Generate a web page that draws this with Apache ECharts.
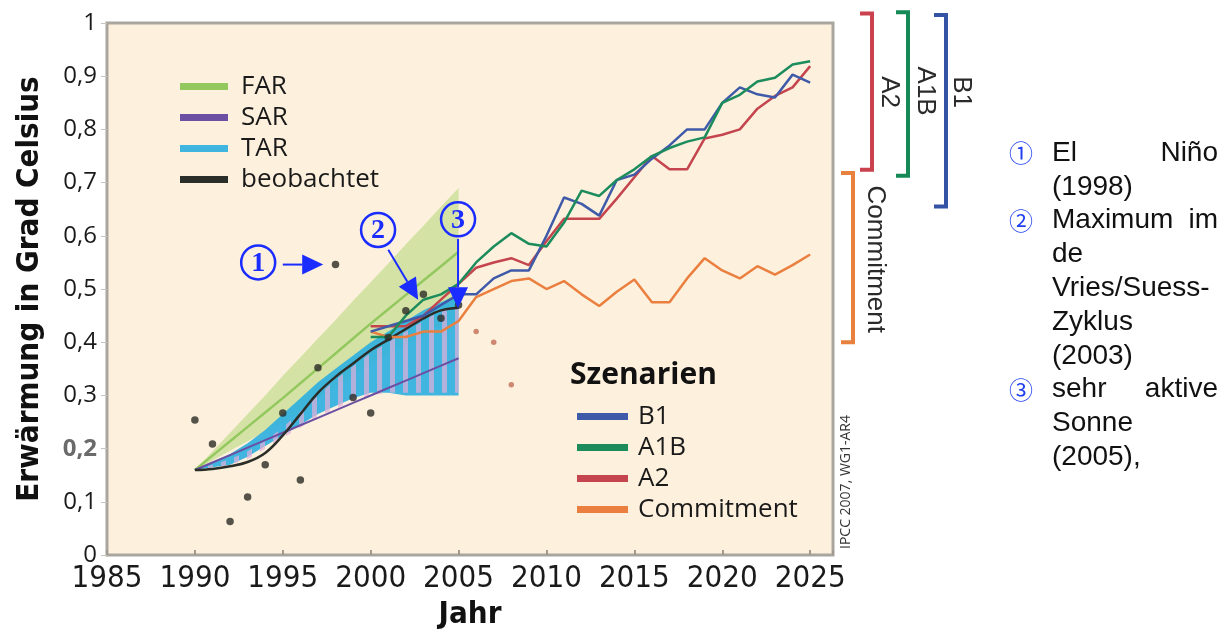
<!DOCTYPE html>
<html><head><meta charset="utf-8">
<script src="https://cdn.jsdelivr.net/npm/echarts@6/dist/echarts.min.js"></script>
<style>html,body{margin:0;padding:0;background:#fff}#c{width:1231px;height:635px}</style>
</head><body><div id="c"></div>
<script>
// ---------- data ----------
const xTickLabels = ['1985','1990','1995','2000','2005','2010','2015','2020','2025'];
const yTickLabels = ['0','0,1','0,2','0,3','0,4','0,5','0,6','0,7','0,8','0,9','1'];

const bandYears = [1990,1991,1992,1993,1994,1995,1996,1997,1998,1999,2000,2001,2002,2003,2004,2005];
const farUpper  = [0.16,0.195,0.23,0.265,0.30,0.337,0.372,0.407,0.442,0.478,0.513,0.548,0.584,0.619,0.655,0.69];
const farLower  = [0.16,0.178,0.196,0.214,0.232,0.25,0.272,0.294,0.316,0.338,0.36,0.378,0.396,0.414,0.432,0.45];
const farCenter = [0.16,0.187,0.214,0.241,0.268,0.295,0.323,0.351,0.379,0.407,0.435,0.462,0.489,0.516,0.543,0.57];
const tarUpper  = [0.16,0.175,0.19,0.21,0.235,0.265,0.295,0.325,0.35,0.375,0.40,0.42,0.44,0.46,0.475,0.49];
const tarLower  = [0.16,0.165,0.17,0.185,0.205,0.225,0.245,0.265,0.28,0.295,0.305,0.305,0.30,0.30,0.30,0.30];
const sarUpper  = [0.16,0.17,0.18,0.195,0.215,0.24,0.27,0.30,0.33,0.355,0.38,0.40,0.42,0.44,0.46,0.47];
const sarLower  = [0.16,0.165,0.17,0.18,0.20,0.22,0.24,0.26,0.275,0.29,0.30,0.305,0.305,0.305,0.305,0.305];
const sarCenter = [0.16,0.174,0.188,0.202,0.216,0.23,0.244,0.258,0.272,0.286,0.30,0.314,0.328,0.342,0.356,0.37];

const obsSmooth = [0.16,0.162,0.167,0.175,0.192,0.225,0.265,0.305,0.335,0.36,0.385,0.405,0.425,0.445,0.46,0.465];
const obsDots   = [0.254,0.209,0.063,0.109,0.170,0.267,0.141,0.352,0.546,0.296,0.267,0.409,0.459,0.49,0.445,0.47];
const lateYears = [2006,2007,2008];
const lateDots  = [0.42,0.40,0.32];

const scenYears = [2000,2001,2002,2003,2004,2005,2006,2007,2008,2009,2010,2011,2012,2013,2014,2015,2016,2017,2018,2019,2020,2021,2022,2023,2024,2025];
const B1  = [0.42,0.43,0.44,0.45,0.47,0.49,0.49,0.52,0.535,0.535,0.60,0.672,0.66,0.638,0.705,0.715,0.745,0.77,0.80,0.80,0.85,0.879,0.866,0.86,0.903,0.888];
const A1B = [0.41,0.41,0.45,0.48,0.49,0.51,0.55,0.58,0.605,0.585,0.58,0.625,0.685,0.675,0.705,0.725,0.75,0.765,0.777,0.785,0.85,0.865,0.89,0.897,0.922,0.928];
const A2  = [0.43,0.43,0.43,0.45,0.48,0.51,0.54,0.55,0.558,0.545,0.59,0.632,0.632,0.632,0.67,0.71,0.75,0.725,0.725,0.783,0.79,0.80,0.839,0.863,0.879,0.919];
const Commitment = [0.42,0.41,0.41,0.42,0.42,0.44,0.485,0.50,0.515,0.52,0.50,0.515,0.49,0.468,0.495,0.518,0.475,0.475,0.52,0.558,0.535,0.52,0.543,0.527,0.545,0.565];

const bracketNames   = ['A2','A1B','B1','Commitment'];
const bracketLow     = [0.724,0.713,0.655,0.40];
const bracketHigh    = [1.018,1.02,1.015,0.718];
const bracketLabelAt = [0.87,0.872,0.87,0.556];

// annotation anchors (data units)
const noteLabels  = ['1','2','3'];
const noteCircles = [[1993.6,0.55],[2000.42,0.611],[2004.97,0.631]];
const noteArrowFrom = [[1995.0,0.546],[2001.0,0.574],[2004.97,0.594]];
const noteArrowTo   = [[1997.3,0.546],[2002.7,0.480],[2004.97,0.464]];

// ---------- styles ----------
const narrow = "'Liberation Sans Narrow','DejaVu Sans Condensed','Open Sans',sans-serif";
const humanist = "'Open Sans',sans-serif";
const blueNote = '#1a2cff';
const colors = {FAR:'#93c85e', SAR:'#6a4fa3', TAR:'#36b2df', obs:'#2b2d28',
  B1:'#3f5aa8', A1B:'#1c8c5c', A2:'#c5454f', Commitment:'#ea7f3f'};
const bracketStyle = {
  A2:{off:39, lab:17, color:'#c9424e'}, A1B:{off:75, lab:17, color:'#168a56'},
  B1:{off:113, lab:15, color:'#3553a4'}, Commitment:{off:20, lab:22, color:'#e8803e'}};

const X_MIN = 1985, X_MAX = 2026.3;

function zip(xs, ys){ return xs.map((x,i)=>[x, ys[i]]); }

function bandSeries(name, up, lo, fill){
  return {
    type:'custom', name: name, coordinateSystem:'cartesian2d', silent:true, z:1,
    itemStyle:{color: typeof fill === 'string' ? fill : colors.TAR},
    data:[[bandYears[0], lo[0]]],
    renderItem:function(params, api){
      const pts = [];
      for (let i=0;i<bandYears.length;i++) pts.push(api.coord([bandYears[i], up[i]]));
      for (let i=bandYears.length-1;i>=0;i--) pts.push(api.coord([bandYears[i], lo[i]]));
      return {type:'polygon', shape:{points:pts}, style:{fill:fill}};
    }
  };
}

// stripe pattern for SAR band
const pc = document.createElement('canvas'); pc.width = 13; pc.height = 10;
const pctx = pc.getContext('2d');
pctx.fillStyle = 'rgba(225,175,218,0.70)'; pctx.fillRect(0,0,5,10);
const stripe = {image: pc, repeat:'repeat'};

const chart = echarts.init(document.getElementById('c'), null, {renderer:'canvas'});

const noteGraphics = [];
const noteRows = [
  ['①', ['El','Niño']], [null, ['(1998)']],
  ['②', ['Maximum','im']], [null, ['de']], [null, ['Vries/Suess-']], [null, ['Zyklus']], [null, ['(2003)']],
  ['③', ['sehr','aktive']], [null, ['Sonne']], [null, ['(2005),']]
];
noteRows.forEach((r, i) => {
  const y = 153 + i*33.8;
  if (r[0]) noteGraphics.push({type:'text', x:1021, y:y, style:{text:r[0], fill:'#2040f0', font:"24px 'Noto Sans CJK JP'", textAlign:'center', textVerticalAlign:'middle'}});
  noteGraphics.push({type:'text', x:1052, y:y, style:{text:r[1][0], fill:'#111', font:"28px 'Liberation Sans',Arial,sans-serif", textAlign:'left', textVerticalAlign:'middle'}});
  if (r[1][1]) noteGraphics.push({type:'text', x:1218, y:y, style:{text:r[1][1], fill:'#111', font:"28px 'Liberation Sans',Arial,sans-serif", textAlign:'right', textVerticalAlign:'middle'}});
});

const option = {
  animation:false,
  backgroundColor:'#ffffff',
  grid:{left:107, right:398, top:23, bottom:72, show:true, backgroundColor:'#fdf1dd', borderColor:'#aaa69f', borderWidth:3},
  xAxis:{
    type:'value', min:X_MIN, max:X_MAX, interval:5,
    name:'Jahr', nameLocation:'middle', nameGap:36,
    nameTextStyle:{fontFamily:narrow, fontWeight:'bold', fontSize:31, color:'#111'},
    axisLine:{show:false}, splitLine:{show:false},
    axisTick:{show:true, inside:true, length:5, lineStyle:{color:'#a09a90', width:2}},
    axisLabel:{margin:8, fontFamily:narrow, fontSize:31, color:'#1a1a1a',
      formatter:function(v){ const s = String(Math.round(v)); return (Math.abs(v-Math.round(v))<1e-6 && xTickLabels.indexOf(s)>=0) ? s : ''; }}
  },
  yAxis:{
    type:'value', min:0, max:1, interval:0.1,
    name:'Erwärmung in Grad Celsius', nameLocation:'middle', nameGap:62,
    nameTextStyle:{fontFamily:narrow, fontWeight:'bold', fontSize:31, color:'#111'},
    axisLine:{show:false}, splitLine:{show:false},
    axisTick:{show:true, length:6, lineStyle:{color:'#c8c4bc', width:1}},
    axisLabel:{margin:10, fontFamily:humanist, fontSize:24, color:'#1a1a1a',
      formatter:function(v){ const s = yTickLabels[Math.round(v*10)]; return s === '0,2' ? '{g|'+s+'}' : s; },
      rich:{g:{fontFamily:humanist, fontSize:24, fontWeight:'bold', color:'#6a6a6a'}}}
  },
  legend:[
    {data:['FAR','SAR','TAR','beobachtet'], orient:'vertical', left:175, top:66, icon:'rect',
     itemWidth:48, itemHeight:7, itemGap:0, selectedMode:false,
     textStyle:{fontFamily:humanist, fontSize:26, color:'#1a1a1a', lineHeight:31, padding:[0,0,0,8]}},
    {data:['B1','A1B','A2','Commitment'], orient:'vertical', left:572, top:396, icon:'rect',
     itemWidth:51, itemHeight:7, itemGap:0, selectedMode:false,
     textStyle:{fontFamily:humanist, fontSize:26, color:'#1a1a1a', lineHeight:31, padding:[0,0,0,5]}}
  ],
  graphic:[
    {type:'text', x:570, y:375, style:{text:'Szenarien', font:"bold 30px 'Open Sans',sans-serif", fill:'#111', textAlign:'left', textVerticalAlign:'middle'}},
    {type:'text', x:846, y:482, rotation:Math.PI/2, style:{text:'IPCC 2007, WG1-AR4', font:"14px 'Open Sans',sans-serif", fill:'#333', textAlign:'center', textVerticalAlign:'middle'}}
  ].concat(noteGraphics),
  series:[
    bandSeries('FARband', farUpper, farLower, 'rgba(165,208,100,0.45)'),
    bandSeries('TAR', tarUpper, tarLower, 'rgba(48,176,222,0.92)'),
    bandSeries('SARband', sarUpper, sarLower, stripe),
    {type:'line', name:'FAR', data:zip(bandYears, farCenter), showSymbol:false, z:3,
     lineStyle:{color:colors.FAR, width:2.5}, itemStyle:{color:colors.FAR}},
    {type:'line', name:'SAR', data:zip(bandYears, sarCenter), showSymbol:false, z:3,
     lineStyle:{color:colors.SAR, width:2}, itemStyle:{color:colors.SAR}},
    {type:'line', name:'beobachtet', data:zip(bandYears, obsSmooth), smooth:0.4, showSymbol:false, z:4,
     lineStyle:{color:colors.obs, width:2.5}, itemStyle:{color:colors.obs}},
    {type:'line', name:'Commitment', data:zip(scenYears, Commitment), showSymbol:false, z:5,
     lineStyle:{color:colors.Commitment, width:2.5}, itemStyle:{color:colors.Commitment}},
    {type:'line', name:'A2', data:zip(scenYears, A2), showSymbol:false, z:5,
     lineStyle:{color:colors.A2, width:2.5}, itemStyle:{color:colors.A2}},
    {type:'line', name:'B1', data:zip(scenYears, B1), showSymbol:false, z:5,
     lineStyle:{color:colors.B1, width:2.5}, itemStyle:{color:colors.B1}},
    {type:'line', name:'A1B', data:zip(scenYears, A1B), showSymbol:false, z:5,
     lineStyle:{color:colors.A1B, width:2.5}, itemStyle:{color:colors.A1B}},
    {type:'scatter', name:'obsDots', data:zip(bandYears, obsDots), symbolSize:7.5, z:6,
     itemStyle:{color:'#2a2a26'}},
    {type:'scatter', name:'lateDots', data:zip(lateYears, lateDots), symbolSize:5.5, z:6,
     itemStyle:{color:'#c26e58'}},
    {type:'custom', name:'notes', coordinateSystem:'cartesian2d', clip:false, silent:true, z:8,
     data: noteLabels.map((l,i)=>[noteCircles[i][0], noteCircles[i][1], i]),
     renderItem:function(params, api){
       const i = api.value(2);
       const c = api.coord(noteCircles[i]);
       const a = api.coord(noteArrowFrom[i]);
       const b = api.coord(noteArrowTo[i]);
       const dx = b[0]-a[0], dy = b[1]-a[1], L = Math.sqrt(dx*dx+dy*dy);
       const ux = dx/L, uy = dy/L, hl = 21, hw = 10;
       const base = [b[0]-ux*hl, b[1]-uy*hl];
       return {type:'group', children:[
         {type:'circle', shape:{cx:c[0], cy:c[1], r:17}, style:{fill:null, stroke:blueNote, lineWidth:2.5}},
         {type:'text', x:c[0], y:c[1]+1, style:{text:noteLabels[i], fill:blueNote,
           font:"bold 28px 'Liberation Serif','DejaVu Serif',serif", textAlign:'center', textVerticalAlign:'middle'}},
         {type:'line', shape:{x1:a[0], y1:a[1], x2:base[0], y2:base[1]}, style:{stroke:blueNote, lineWidth:2}},
         {type:'polygon', shape:{points:[[b[0],b[1]],[base[0]-uy*hw, base[1]+ux*hw],[base[0]+uy*hw, base[1]-ux*hw]]},
          style:{fill:blueNote}}
       ]};
     }},
    {type:'custom', name:'brackets', coordinateSystem:'cartesian2d', clip:false, silent:true, z:2,
     data: bracketNames.map((n,i)=>[bracketLow[i], bracketHigh[i], bracketLabelAt[i], i]),
     renderItem:function(params, api){
       const i = api.value(3); const name = bracketNames[i]; const st = bracketStyle[name];
       const xr = api.coord([X_MAX, 0])[0] + st.off;
       const yTop = api.coord([X_MAX, api.value(1)])[1];
       const yBot = api.coord([X_MAX, api.value(0)])[1];
       const yLab = api.coord([X_MAX, api.value(2)])[1];
       return {type:'group', children:[
         {type:'polyline', shape:{points:[[xr-12,yTop],[xr,yTop],[xr,yBot],[xr-12,yBot]]},
          style:{stroke:st.color, lineWidth:4, fill:null}},
         {type:'text', x:xr+st.lab, y:yLab, rotation:-Math.PI/2,
          style:{text:name, font:"26px 'Liberation Sans',Arial,sans-serif", fill:'#2a2a2a', textAlign:'center', textVerticalAlign:'middle'}}
       ]};
     }}
  ]
};
chart.setOption(option);
</script>
</body></html>
